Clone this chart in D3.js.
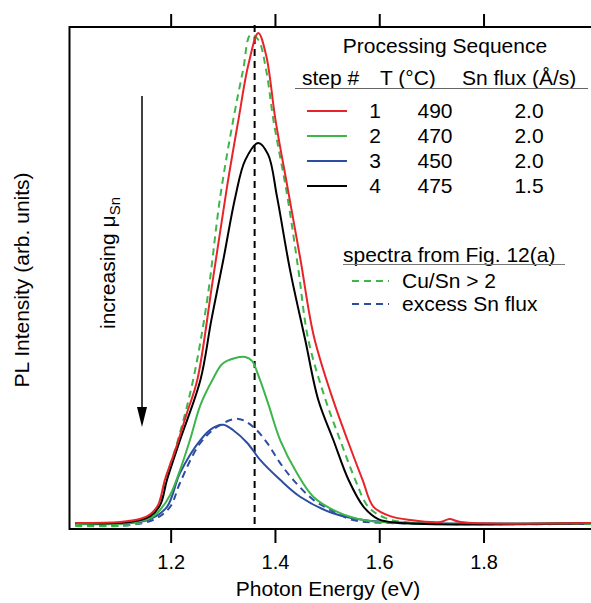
<!DOCTYPE html>
<html><head><meta charset="utf-8">
<script src="https://cdn.jsdelivr.net/npm/d3@7"></script>
<style>
body{margin:0;background:#fff;}
svg{display:block;font-family:"Liberation Sans",Arial,Helvetica,sans-serif;}
</style></head>
<body><div id="chart"></div>
<script>
// ---- data (energy eV, PL intensity arb. units) ----
const xTicks = [1.2, 1.4, 1.6, 1.8];
const peakLine = 1.361;

const step1 = [[1.017,0.2],[1.103,0.4],[1.141,1.0],[1.161,2.0],[1.176,3.9],[1.189,9.0],[1.209,15.1],[1.230,22.2],[1.251,29.3],[1.280,49.1],[1.308,68.6],[1.330,82.3],[1.349,93.5],[1.368,100],[1.383,95.5],[1.401,82.3],[1.424,68.6],[1.449,53.8],[1.474,38.5],[1.506,27.0],[1.539,17.1],[1.568,9.0],[1.589,3.5],[1.621,1.6],[1.660,0.8],[1.717,0.4],[1.735,1.0],[1.756,0.4],[2.007,0.2]];
const step2 = [[1.017,0],[1.122,0.2],[1.161,1.2],[1.180,2.9],[1.199,5.9],[1.218,11.0],[1.237,17.1],[1.257,24.2],[1.280,29.3],[1.299,32.6],[1.324,33.8],[1.343,34.0],[1.356,33.2],[1.368,30.3],[1.387,24.5],[1.410,17.1],[1.442,10.4],[1.474,5.5],[1.525,2.2],[1.570,0.8],[1.641,0.2],[2.007,0.2]];
const step3 = [[1.017,0],[1.122,0.2],[1.161,1.0],[1.193,3.5],[1.218,10.4],[1.257,17.1],[1.282,19.6],[1.301,20.2],[1.320,19.1],[1.347,16.5],[1.372,13.0],[1.410,9.0],[1.449,5.5],[1.506,2.4],[1.570,0.8],[1.679,0.2],[2.007,0.2]];
const step4 = [[1.017,0.2],[1.122,0.4],[1.161,1.6],[1.180,3.9],[1.193,9.0],[1.218,17.1],[1.257,29.3],[1.278,41.5],[1.301,53.8],[1.324,66.6],[1.343,74.1],[1.368,77.6],[1.387,75.2],[1.404,66.6],[1.429,51.7],[1.458,37.5],[1.483,25.3],[1.512,17.1],[1.541,9.0],[1.570,3.5],[1.598,1.0],[1.641,0.2],[2.007,0.2]];
const cuSnGt2 = [[1.017,-0.4],[1.122,-0.2],[1.161,1.2],[1.180,4.9],[1.193,10.0],[1.214,17.1],[1.243,29.3],[1.270,45.6],[1.295,66.6],[1.320,82.3],[1.339,92.5],[1.353,99.6],[1.368,98.6],[1.383,92.5],[1.397,82.3],[1.424,66.6],[1.445,51.7],[1.464,37.5],[1.497,25.3],[1.525,17.1],[1.554,9.0],[1.579,3.5],[1.612,1.2],[1.660,0.2],[1.717,0],[2.007,0]];
const excessSn = [[1.017,-0.2],[1.122,-0.2],[1.170,1.0],[1.199,3.5],[1.218,8.4],[1.257,16.5],[1.295,20.2],[1.330,21.4],[1.358,19.8],[1.385,16.5],[1.410,12.4],[1.435,9.0],[1.474,4.9],[1.506,2.9],[1.550,0.8],[1.621,0.2],[2.007,0]];

const stepNums = ["1","2","3","4"];
const temps = ["490","470","450","475"];
const fluxes = ["2.0","2.0","2.0","1.5"];
const stepColors = ["#e8242b","#3db54a","#2d4da3","#000000"];
const refLabels = ["Cu/Sn > 2","excess Sn flux"];
const refColors = ["#3db54a","#2d4da3"];

// ---- layout ----
const W = 591, H = 603;
const svg = d3.select("#chart").append("svg").attr("width", W).attr("height", H);
const pL = 69.5, pT = 27, pB = 529, pR = 592;
const x = d3.scaleLinear().domain([1.006, 2.008]).range([pL, pR]);
const y = d3.scaleLinear().domain([-1.02, 101.2]).range([pB, pT]);

const plot = svg.append("g");
plot.append("clipPath").attr("id","clip").append("rect")
  .attr("x", pL).attr("y", pT-8).attr("width", pR-pL).attr("height", pB-pT+8);

const line = d3.line().x(d => x(d[0])).y(d => y(d[1])).curve(d3.curveCatmullRom.alpha(0.5));
const g = plot.append("g").attr("clip-path","url(#clip)");

// vertical dashed line
g.append("line").attr("x1", x(peakLine)).attr("x2", x(peakLine))
  .attr("y1", pT-2).attr("y2", pB-3)
  .attr("stroke","#000").attr("stroke-width",2).attr("stroke-dasharray","7,5");

const series = [
  {d: excessSn, c: refColors[1], dash: "7,5"},
  {d: cuSnGt2, c: refColors[0], dash: "7,5"},
  {d: step3, c: stepColors[2]},
  {d: step2, c: stepColors[1]},
  {d: step4, c: stepColors[3]},
  {d: step1, c: stepColors[0]}
];
series.forEach(s => {
  g.append("path").datum(s.d).attr("d", line).attr("fill","none")
    .attr("stroke", s.c).attr("stroke-width", 2)
    .attr("stroke-dasharray", s.dash || null).attr("stroke-linejoin","round");
});

// axes
const xb = d3.axisBottom(x).tickValues(xTicks).tickFormat(d3.format(".1f")).tickSize(14).tickPadding(12);
const xt = d3.axisTop(x).tickValues(xTicks).tickFormat("").tickSize(13);
const gb = svg.append("g").attr("transform", `translate(0,${pB})`).call(xb);
const gt = svg.append("g").attr("transform", `translate(0,${pT})`).call(xt);
[gb, gt].forEach(a => {
  a.select(".domain").remove();
  a.selectAll(".tick line").attr("stroke","#000").attr("stroke-width",2);
});
gb.selectAll(".tick text").attr("font-size", 20).attr("fill","#000")
  .attr("font-family",'"Liberation Sans",Arial,sans-serif');

// frame
svg.append("path").attr("d", `M${W+2},${pT}H${pL}V${pB}H${W+2}`)
  .attr("fill","none").attr("stroke","#000").attr("stroke-width",2);

// titles
svg.append("text").attr("x", 328).attr("y", 596).attr("text-anchor","middle")
  .attr("font-size", 21).text("Photon Energy (eV)");
svg.append("text").attr("transform","translate(29,280) rotate(-90)")
  .attr("text-anchor","middle").attr("font-size", 21).text("PL Intensity (arb. units)");

// arrow
svg.append("line").attr("x1",142).attr("x2",142).attr("y1",96).attr("y2",410)
  .attr("stroke","#000").attr("stroke-width",1.5);
svg.append("path").attr("d","M137,407L147,407L142,427Z").attr("fill","#000");
const inc = svg.append("text").attr("transform","translate(115,263) rotate(-90)")
  .attr("text-anchor","middle").attr("font-size",21);
inc.append("tspan").text("increasing μ");
inc.append("tspan").attr("font-size",15).attr("dy",5).text("Sn");

// legend 1
const lg = svg.append("g").attr("font-size",21);
lg.append("text").attr("x",445).attr("y",53).attr("text-anchor","middle").text("Processing Sequence");
lg.append("text").attr("x",302).attr("y",85).text("step #");
lg.append("text").attr("x",380).attr("y",85).text("T (°C)");
lg.append("text").attr("x",462).attr("y",85).text("Sn flux (Å/s)");
lg.append("line").attr("x1",295).attr("x2",588).attr("y1",88.5).attr("y2",88.5)
  .attr("stroke","#666").attr("stroke-width",1);
stepNums.forEach((s,i) => {
  const by = 118 + i*25;
  lg.append("line").attr("x1",307).attr("x2",347).attr("y1",by-7).attr("y2",by-7)
    .attr("stroke",stepColors[i]).attr("stroke-width",2);
  lg.append("text").attr("x",375).attr("y",by).attr("text-anchor","middle").text(s);
  lg.append("text").attr("x",435).attr("y",by).attr("text-anchor","middle").text(temps[i]);
  lg.append("text").attr("x",529).attr("y",by).attr("text-anchor","middle").text(fluxes[i]);
});

// legend 2
lg.append("text").attr("x",343).attr("y",262).text("spectra from Fig. 12(a)");
lg.append("line").attr("x1",343).attr("x2",565).attr("y1",264.5).attr("y2",264.5)
  .attr("stroke","#777").attr("stroke-width",1);
refLabels.forEach((t,i) => {
  const by = 288 + i*23;
  lg.append("line").attr("x1",352).attr("x2",389).attr("y1",by-7).attr("y2",by-7)
    .attr("stroke",refColors[i]).attr("stroke-width",2).attr("stroke-dasharray","7,5");
  lg.append("text").attr("x",402).attr("y",by).text(t);
});
</script></body></html>
